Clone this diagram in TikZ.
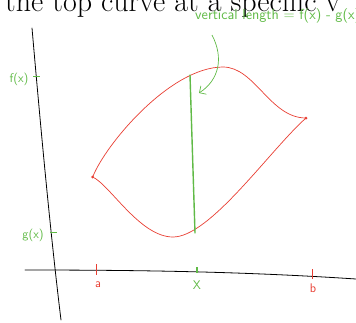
\documentclass[tikz,border=0pt]{standalone}
\usepackage{fontspec}
\usetikzlibrary{arrows.meta}
\definecolor{penred}{RGB}{232,62,50}
\definecolor{pengreen}{RGB}{96,186,70}
\tikzset{
  axisline/.style={black, line width=0.8pt, line cap=round},
  curveline/.style={penred, line width=0.7pt},
  greenline/.style={pengreen, line width=1.4pt, line cap=round},
  tickred/.style={penred, line width=0.7pt},
  tickgreen/.style={pengreen, line width=0.7pt},
  hand/.style={inner sep=0pt, font=\sffamily\fontsize{12.5}{13}\selectfont},
  enddot/.style={circle, fill=penred, inner sep=0pt, minimum size=3pt}
}
\begin{document}
\begin{tikzpicture}[x=1pt,y=-1pt]
\useasboundingbox (0,0) rectangle (356,322);
\clip (0,0) rectangle (356,322);

% clipped heading text
\node[anchor=base west, inner sep=0pt, font=\fontsize{30}{31}\selectfont] (head) at (5,11) {the top curve at a specific v};
\node[anchor=base west, inner sep=0pt, text=pengreen, font=\sffamily\fontsize{14.5}{15}\selectfont] (vlen) at (195,19) {vertical length = f(x) - g(x)};

% axes
\coordinate (yt) at (32,28); \coordinate (yb) at (61,320);
\draw[axisline] (yt) .. controls (40,120) and (50,230) .. (yb);
\coordinate (xl) at (25,270); \coordinate (xr) at (356,279);
\draw[axisline] (xl) .. controls (150,270) and (250,272) .. (xr);

% points
\coordinate (L) at (92.7,177);
\coordinate (R) at (306,118);
\coordinate (P) at (223,67);
\coordinate (M) at (173,237);

% red region boundary
\draw[curveline] (L) .. controls (105,145) and (170,67) .. (P)
                     .. controls (255,67) and (270,118) .. (R);
\draw[curveline] (L) .. controls (110,185) and (140,237) .. (M)
                     .. controls (210,237) and (270,150) .. (R);
\node[enddot] at (L) {};
\node[enddot] at (R) {};

% vertical segment
\coordinate (ftop) at (190,75);
\coordinate (gbot) at (195,233);
\draw[greenline] (ftop) -- (gbot);

% arrow from label
\coordinate (arrS) at (212,35);
\coordinate (arrE) at (199,93);
\draw[pengreen, line width=0.7pt, -{Straight Barb[length=5pt,width=10pt]}] (arrS) .. controls (224,58) and (219,80) .. (arrE);

% y-axis ticks and labels
\coordinate (ft1) at (33,76); \coordinate (ft2) at (40,76);
\draw[tickgreen] (ft1) -- (ft2);
\node[hand, text=pengreen] (fx) at (19,79) {f(x)};
\coordinate (gt1) at (50,232); \coordinate (gt2) at (57,232);
\draw[tickgreen] (gt1) -- (gt2);
\node[hand, text=pengreen] (gx) at (33,235) {g(x)};

% x-axis ticks and labels
\coordinate (a1) at (96,264); \coordinate (a2) at (96,275);
\draw[tickred] (a1) -- (a2);
\node[hand, text=penred] (alab) at (98,285) {a};
\coordinate (x1) at (197,267); \coordinate (x2) at (197,273);
\draw[pengreen, line width=1.2pt] (x1) -- (x2);
\node[hand, text=pengreen] (xlab) at (197,285) {X};
\coordinate (b1) at (312,269); \coordinate (b2) at (312,279);
\draw[tickred] (b1) -- (b2);
\node[hand, text=penred] (blab) at (313,288) {b};
\end{tikzpicture}
\end{document}
